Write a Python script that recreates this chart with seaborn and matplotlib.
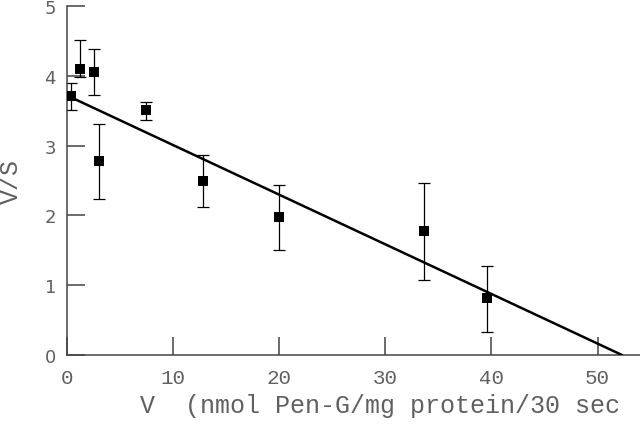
import numpy as np
import pandas as pd
import matplotlib
matplotlib.use("Agg")
import matplotlib.pyplot as plt
import seaborn as sns

# Eadie-Hofstee style data
v_values = [0.4, 1.2, 2.5, 3.0, 7.4, 12.8, 20.0, 33.6, 39.6]
vs_values = [3.71, 4.10, 4.05, 2.78, 3.51, 2.49, 1.97, 1.78, 0.82]
err_low = [3.51, 3.98, 3.72, 2.23, 3.37, 2.12, 1.50, 1.08, 0.33]
err_high = [3.90, 4.51, 4.38, 3.31, 3.62, 2.87, 2.44, 2.46, 1.28]

# regression line end points
fit_x = [0.4, 52.3]
fit_y = [3.69, 0.0]

x_ticks = [0, 10, 20, 30, 40, 50]
y_ticks = [0, 1, 2, 3, 4, 5]

points = pd.DataFrame({"V": v_values, "VS": vs_values})
fit = pd.DataFrame({"V": fit_x, "VS": fit_y})

sns.set_theme(style="ticks")
plt.rcParams["font.family"] = ["Liberation Mono", "DejaVu Sans"]

text_grey = "#606060"
axis_grey = "#444444"

fig = plt.figure(figsize=(6.4, 4.27), dpi=100)
ax = fig.add_axes([67 / 640, 1 - 356 / 427, 573 / 640, 349 / 427])

lo = np.array(vs_values) - np.array(err_low)
hi = np.array(err_high) - np.array(vs_values)
ax.errorbar(v_values, vs_values, yerr=[lo, hi], fmt="none",
            ecolor="black", elinewidth=0.9, capsize=4.5, capthick=0.9, zorder=2)

sns.lineplot(data=fit, x="V", y="VS", color="black", linewidth=1.8, ax=ax, zorder=3)
sns.scatterplot(data=points, x="V", y="VS", marker="s", s=58, color="black",
                edgecolor="black", linewidth=0, ax=ax, zorder=4)

ax.set_xlim(0, 54)
ax.set_ylim(0, 5)
ax.set_xticks(x_ticks)
ax.set_yticks(y_ticks)
ax.set_xlabel("")
ax.set_ylabel("")

for side in ["top", "right"]:
    ax.spines[side].set_visible(False)
for side in ["left", "bottom"]:
    ax.spines[side].set_color(axis_grey)
    ax.spines[side].set_linewidth(1.1)

ax.tick_params(axis="both", direction="in", length=13, width=1.1, color=axis_grey)
ax.tick_params(axis="x", pad=9, labelsize=15, labelcolor=text_grey)
ax.tick_params(axis="y", pad=8, labelsize=13, labelcolor=text_grey)
for lab in ax.get_yticklabels():
    lab.set_family("DejaVu Sans")

fig.text(140 / 640, 1 - 413 / 427, "V  (nmol Pen-G/mg protein/30 sec",
         fontsize=18, color=text_grey, ha="left", va="baseline")
fig.text(11 / 640, 1 - 181 / 427, "V/S", fontsize=18, color=text_grey,
         rotation=90, ha="center", va="center")

fig.savefig("out.png", dpi=100)
